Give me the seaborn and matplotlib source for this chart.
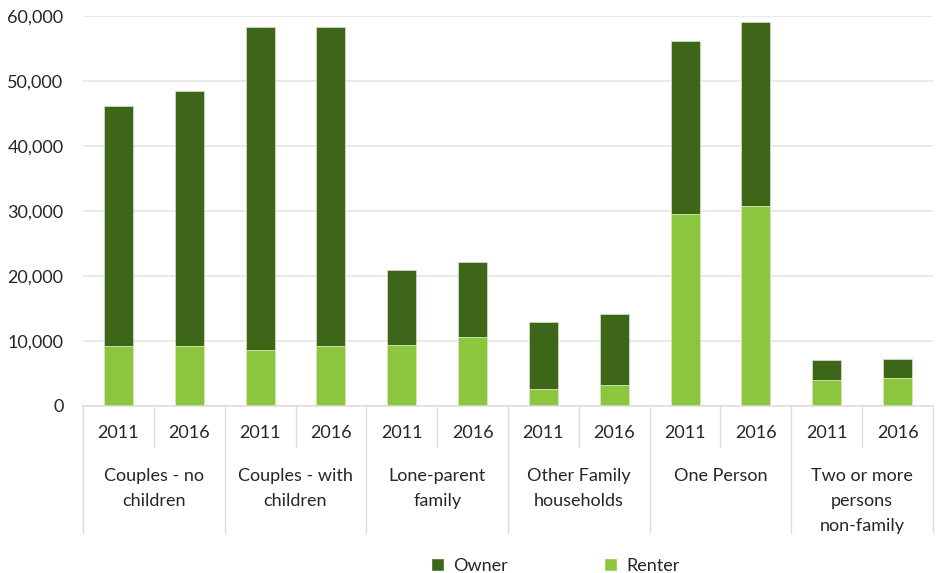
import matplotlib
matplotlib.use("Agg")
import matplotlib.pyplot as plt
import matplotlib.transforms as mtransforms
from matplotlib.patches import Patch
import seaborn as sns
import pandas as pd

groups = ["Couples - no\nchildren", "Couples - with\nchildren", "Lone-parent\nfamily",
          "Other Family\nhouseholds", "One Person", "Two or more\npersons\nnon-family"]
years = ["2011", "2016"]
renter = [9240, 9240, 8680, 9240, 9450, 10600, 2570, 3190, 29500, 30700, 3960, 4370]
owner = [36860, 39260, 49620, 49060, 11450, 11500, 10330, 10910, 26600, 28300, 3080, 2870]
yticks = [0, 10000, 20000, 30000, 40000, 50000, 60000]

owner_color = "#3E6619"
renter_color = "#8CC63F"

sns.set_theme(style="white")
plt.rcParams["font.family"] = ["Lato", "DejaVu Sans"]

keys, glist, ylist = [], [], []
for gi, g in enumerate(groups):
    for y in years:
        keys.append(f"{gi}-{y}")
        glist.append(g)
        ylist.append(y)
df = pd.DataFrame({"key": keys, "group": glist, "year": ylist,
                   "Renter": renter, "Owner": owner})
df["Total"] = df["Renter"] + df["Owner"]

fig = plt.figure(figsize=(9.36, 5.73), dpi=100)
ax = fig.add_axes([83 / 936, 167 / 573, 850 / 936, 390 / 573])

sns.barplot(data=df, x="key", y="Total", order=keys, color=owner_color,
            width=0.41, ax=ax, edgecolor="#cfdcc2", linewidth=0.6, saturation=1)
sns.barplot(data=df, x="key", y="Renter", order=keys, color=renter_color,
            width=0.41, ax=ax, edgecolor="#d8ecc0", linewidth=0.6, saturation=1)

ax.set_xlim(-0.5, len(keys) - 0.5)
ax.set_ylim(0, 60000)
ax.set_yticks(yticks)
ax.set_yticklabels([f"{v:,}" for v in yticks], fontsize=13, color="#262626")
ax.tick_params(axis="y", length=0, pad=14)
ax.set_xticks([])
ax.set_xlabel("")
ax.set_ylabel("")
ax.grid(axis="y", color="#e3e3e3", linewidth=1.1)
ax.set_axisbelow(True)
for s in ["top", "right", "left"]:
    ax.spines[s].set_visible(False)
ax.spines["bottom"].set_color("#dcdcdc")
ax.spines["bottom"].set_linewidth(1.1)

trans = mtransforms.blended_transform_factory(ax.transData, ax.transAxes)
sep_color = "#dcdcdc"
for i in range(len(keys) + 1):
    xpos = i - 0.5
    bottom = -0.326 if i % 2 == 0 else -0.105
    ax.plot([xpos, xpos], [0, bottom], transform=trans, color=sep_color,
            linewidth=1.0, clip_on=False)

for i, k in enumerate(keys):
    ax.text(i, -0.069, ylist[i], transform=trans, ha="center", va="center",
            fontsize=13, color="#262626")
for gi, g in enumerate(groups):
    ax.text(2 * gi + 0.5, -0.160, g, transform=trans, ha="center", va="top",
            fontsize=13, color="#262626", linespacing=1.66)

handles = [Patch(facecolor=owner_color, label="Owner"),
           Patch(facecolor=renter_color, label="Renter")]
fig.legend(handles=handles, loc="center", bbox_to_anchor=(555 / 936, 7 / 573),
           ncol=2, frameon=False, fontsize=13, handlelength=0.75, handleheight=0.75,
           handletextpad=0.5, columnspacing=5.3, labelcolor="#262626")

fig.savefig("out.png", dpi=100)
